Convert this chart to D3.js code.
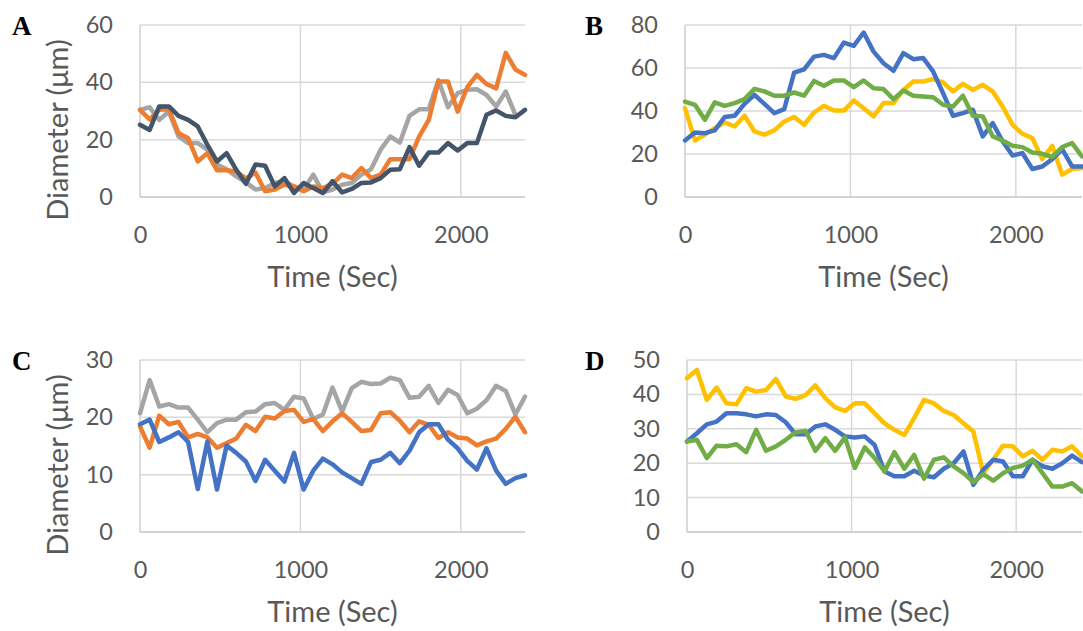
<!DOCTYPE html>
<html lang="en">
<head>
    <meta charset="UTF-8" />
    <title>Diameter over time, panels A-D</title>
    <script src="https://d3js.org/d3.v7.min.js"></script>
    <style>
        body {
            margin: 0;
            background: #ffffff;
        }

        svg {
            display: block;
        }

        .tick text {
            font-family: Lato, "Open Sans", sans-serif;
            font-size: 23.5px;
            fill: #595959;
        }

        .axis-title {
            font-family: Lato, "Open Sans", sans-serif;
            font-size: 29px;
            fill: #595959;
        }

        .panel-letter {
            font-family: "Liberation Serif", "Times New Roman", serif;
            font-weight: bold;
            font-size: 27px;
            fill: #000000;
        }
    </style>
</head>
<body>
    <svg id="chart" width="1083" height="631"></svg>
    <script>
        // Time points (sec)
        var time = [0, 60, 120, 180, 240, 300, 360, 420, 480, 540, 600, 660, 720, 780, 840, 900, 960, 1020, 1080, 1140,
            1200, 1260, 1320, 1380, 1440, 1500, 1560, 1620, 1680, 1740, 1800, 1860, 1920, 1980, 2040, 2100, 2160, 2220,
            2280, 2340, 2400];

        var xTicks = [0, 1000, 2000];

        // Panel A
        var aGrey = [30.4, 31.3, 26.9, 29.8, 21.1, 18.8, 18.8, 16.5, 11.3, 9.7, 7.2, 5.1, 2.6, 3.1, 4.9, 5.5, 3.7, 2.6, 7.8, 1.6,
            2.6, 4.3, 4.9, 7.8, 9.7, 16.5, 21.1, 19.0, 28.3, 30.6, 30.6, 40.8, 31.3, 36.2, 37.4, 37.6, 35.6, 31.6, 36.8, 28.7];
        var aOrange = [30.4, 27.1, 30.4, 30.6, 22.3, 20.5, 12.4, 15.3, 9.3, 9.3, 8.9, 6.5, 8.5, 2.0, 2.6, 4.3, 3.7, 2.0, 3.7, 3.1,
            4.6, 7.8, 6.6, 10.1, 6.6, 7.8, 13.2, 13.2, 13.2, 21.1, 26.9, 40.3, 40.3, 29.8, 38.3, 42.6, 39.4, 37.9, 50.3, 44.5, 42.6];
        var aDark = [25.2, 23.4, 31.6, 31.6, 28.3, 26.9, 24.6, 18.2, 12.4, 15.3, 9.5, 4.6, 11.3, 10.9, 3.7, 6.6, 1.4, 4.9, 3.1, 1.4,
            5.5, 1.6, 2.8, 4.9, 5.1, 6.6, 9.5, 9.7, 17.4, 10.9, 15.5, 15.5, 18.8, 16.2, 18.8, 18.8, 28.7, 30.2, 28.3, 27.8, 30.4];
        var yTicksA = [0, 20, 40, 60];

        // Panel B
        var bYellow = [41.3, 26.3, 29.0, 32.0, 34.7, 32.8, 37.8, 30.5, 29.0, 31.0, 35.1, 37.2, 33.6, 39.3, 42.4, 40.2, 40.2, 44.9, 41.3, 37.5,
            43.7, 43.7, 49.8, 53.7, 53.7, 54.8, 53.3, 49.1, 52.6, 49.8, 52.2, 49.1, 42.1, 33.6, 29.4, 27.4, 17.6, 23.8, 10.4, 13.0, 13.5];
        var bBlue = [26.3, 30.0, 29.7, 31.0, 37.2, 37.8, 43.3, 47.5, 43.3, 39.0, 40.9, 57.9, 59.4, 65.3, 66.1, 64.6, 71.8, 70.3, 76.5, 67.6,
            62.2, 58.7, 66.9, 64.1, 64.6, 58.4, 48.3, 37.8, 39.0, 40.6, 28.2, 34.4, 25.9, 19.3, 20.4, 13.0, 14.2, 17.6, 22.3, 14.2, 14.2];
        var bGreen = [44.4, 42.9, 35.9, 44.0, 42.4, 43.7, 45.5, 50.3, 49.1, 47.1, 47.1, 48.6, 47.1, 54.0, 51.7, 54.2, 54.2, 51.1, 54.2, 50.6,
            50.2, 45.5, 49.5, 47.1, 46.7, 46.4, 42.9, 42.1, 47.1, 37.8, 37.5, 28.2, 26.3, 23.8, 23.2, 20.7, 20.1, 18.6, 23.2, 25.1, 18.9];
        var yTicksB = [0, 20, 40, 60, 80];

        // Panel C
        var cGrey = [20.7, 26.5, 21.9, 22.3, 21.7, 21.7, 19.6, 17.4, 19.0, 19.6, 19.6, 20.9, 21.0, 22.3, 22.5, 21.3, 23.6, 23.3, 19.7, 20.5,
            25.2, 21.0, 25.1, 26.2, 25.8, 25.9, 26.9, 26.5, 23.4, 23.6, 25.5, 22.5, 24.8, 23.9, 20.7, 21.5, 23.0, 25.5, 24.6, 20.5, 23.6];
        var cOrange = [18.4, 14.7, 20.3, 18.8, 19.2, 16.5, 17.1, 16.5, 14.7, 15.5, 16.3, 18.7, 17.6, 20.1, 19.8, 21.1, 21.3, 19.2, 19.7, 17.6,
            19.3, 20.7, 19.2, 17.6, 17.8, 20.7, 20.9, 19.4, 17.4, 19.3, 18.7, 16.4, 17.4, 16.5, 16.3, 15.1, 15.8, 16.3, 18.0, 20.1, 17.4];
        var cBlue = [18.8, 19.6, 15.7, 16.5, 17.4, 15.7, 7.5, 15.8, 7.4, 15.1, 13.8, 12.3, 8.9, 12.6, 10.7, 8.8, 13.8, 7.4, 10.7, 12.8,
            11.8, 10.4, 9.4, 8.4, 12.2, 12.6, 13.8, 12.0, 14.2, 17.4, 18.8, 18.8, 16.1, 14.6, 12.4, 10.9, 14.6, 10.7, 8.4, 9.4, 9.9];
        var yTicksC = [0, 10, 20, 30];

        // Panel D
        var dYellow = [44.7, 47.1, 38.4, 42.0, 37.4, 37.1, 41.8, 40.8, 41.3, 44.5, 39.4, 38.7, 39.8, 42.6, 38.9, 36.2, 35.2, 37.4, 37.4, 34.5,
            31.6, 29.7, 28.2, 33.1, 38.4, 37.4, 35.2, 34.0, 31.6, 29.2, 17.1, 21.0, 25.1, 24.9, 22.0, 23.6, 21.0, 23.9, 23.4, 24.9, 22.0];
        var dBlue = [26.3, 28.7, 31.3, 32.1, 34.5, 34.5, 34.2, 33.6, 34.2, 34.0, 31.9, 28.4, 28.4, 30.7, 31.3, 29.7, 27.8, 27.5, 27.8, 25.3,
            17.6, 16.2, 16.2, 17.8, 16.4, 15.9, 18.4, 20.0, 23.4, 13.7, 18.1, 21.0, 20.5, 16.2, 16.2, 21.0, 19.1, 18.4, 20.0, 22.2, 20.3];
        var dGreen = [26.3, 26.8, 21.5, 25.1, 24.9, 25.5, 23.2, 29.7, 23.6, 24.9, 26.8, 29.0, 29.4, 23.6, 27.3, 23.6, 27.5, 18.6, 24.6, 21.5,
            17.6, 23.2, 18.4, 22.4, 15.5, 21.0, 21.7, 19.1, 17.1, 14.5, 16.8, 14.9, 17.1, 18.6, 19.3, 21.0, 17.1, 13.2, 13.2, 14.2, 11.8];
        var yTicksD = [0, 10, 20, 30, 40, 50];

        var svg = d3.select("#chart");

        // layout of the four panels
        var panels = [
            { letter: "A", lx: 12, ly: 35, left: 140, right: 525, top: 25, bottom: 197, yTicks: yTicksA, yTitle: true,
              series: [[aGrey, "#A5A5A5"], [aOrange, "#ED7D31"], [aDark, "#44546A"]] },
            { letter: "B", lx: 585, ly: 35, left: 685, right: 1082, top: 25, bottom: 197, yTicks: yTicksB, yTitle: false,
              series: [[bYellow, "#FFC000"], [bBlue, "#4472C4"], [bGreen, "#70AD47"]] },
            { letter: "C", lx: 12, ly: 370, left: 140, right: 525, top: 360, bottom: 532, yTicks: yTicksC, yTitle: true,
              series: [[cGrey, "#A5A5A5"], [cOrange, "#ED7D31"], [cBlue, "#4472C4"]] },
            { letter: "D", lx: 585, ly: 370, left: 687, right: 1082, top: 360, bottom: 532, yTicks: yTicksD, yTitle: false,
              series: [[dYellow, "#FFC000"], [dBlue, "#4472C4"], [dGreen, "#70AD47"]] }
        ];

        function drawPanel(p) {
            var g = svg.append("g");

            var xScale = d3.scaleLinear()
                .domain([0, 2400])
                .range([p.left, p.right]);

            var yScale = d3.scaleLinear()
                .domain([0, d3.max(p.yTicks)])
                .range([p.bottom, p.top]);

            // horizontal gridlines
            g.selectAll(".hgrid")
                .data(p.yTicks.filter(d => d > 0))
                .enter()
                .append("line")
                .attr("x1", p.left)
                .attr("x2", p.right)
                .attr("y1", d => yScale(d))
                .attr("y2", d => yScale(d))
                .attr("stroke", "#d9d9d9")
                .attr("stroke-width", 1.5);

            // vertical gridlines
            g.selectAll(".vgrid")
                .data(xTicks.filter(d => d > 0))
                .enter()
                .append("line")
                .attr("x1", d => xScale(d))
                .attr("x2", d => xScale(d))
                .attr("y1", p.top)
                .attr("y2", p.bottom)
                .attr("stroke", "#d9d9d9")
                .attr("stroke-width", 1.5);

            // axis lines
            g.append("line")
                .attr("x1", p.left).attr("x2", p.left)
                .attr("y1", p.top).attr("y2", p.bottom)
                .attr("stroke", "#cfcfcf").attr("stroke-width", 1.5);
            g.append("line")
                .attr("x1", p.left).attr("x2", p.right)
                .attr("y1", p.bottom).attr("y2", p.bottom)
                .attr("stroke", "#c4c4c4").attr("stroke-width", 1.5);

            // tick labels
            g.append("g")
                .attr("transform", "translate(" + p.left + ",0)")
                .call(d3.axisLeft(yScale).tickValues(p.yTicks).tickSize(0).tickPadding(27))
                .call(a => a.select(".domain").remove());

            g.append("g")
                .attr("transform", "translate(0," + p.bottom + ")")
                .call(d3.axisBottom(xScale).tickValues(xTicks).tickSize(0).tickPadding(29).tickFormat(d3.format("d")))
                .call(a => a.select(".domain").remove());

            // lines
            var line = d3.line()
                .x((d, i) => xScale(time[i]))
                .y(d => yScale(d));

            p.series.forEach(function (s) {
                g.append("path")
                    .datum(s[0])
                    .attr("d", line)
                    .attr("fill", "none")
                    .attr("stroke", s[1])
                    .attr("stroke-width", 4.5)
                    .attr("stroke-linejoin", "round")
                    .attr("stroke-linecap", "round");
            });

            // titles
            g.append("text")
                .attr("class", "axis-title")
                .attr("x", (p.left + p.right) / 2)
                .attr("y", p.bottom + 90)
                .attr("text-anchor", "middle")
                .text("Time (Sec)");

            if (p.yTitle) {
                g.append("text")
                    .attr("class", "axis-title")
                    .attr("transform", "translate(68," + (p.bottom - 67) + ") rotate(-90)")
                    .attr("text-anchor", "middle")
                    .text("Diameter (μm)");
            }

            g.append("text")
                .attr("class", "panel-letter")
                .attr("x", p.lx)
                .attr("y", p.ly)
                .text(p.letter);
        }

        panels.forEach(drawPanel);
    </script>
</body>
</html>
